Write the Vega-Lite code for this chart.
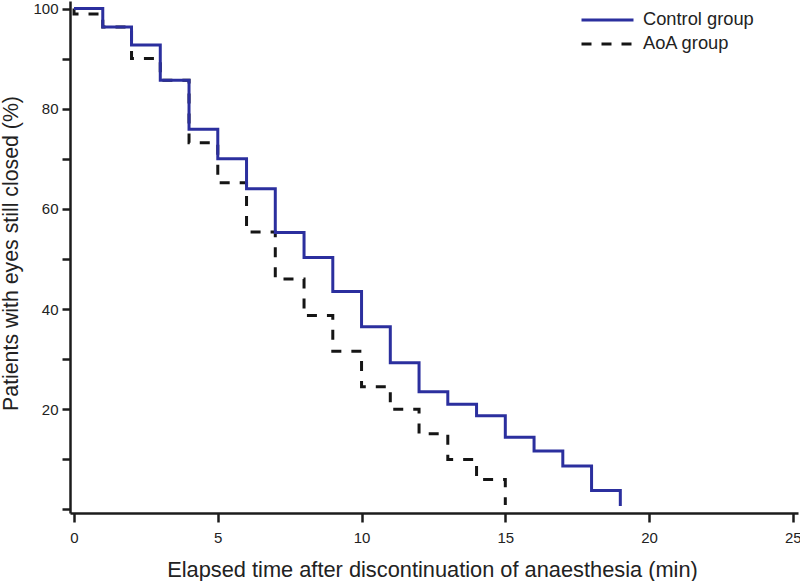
{
  "$schema": "https://vega.github.io/schema/vega-lite/v6.json",
  "width": 728,
  "height": 512,
  "autosize": {"type": "none"},
  "padding": {"left": 70, "top": 1, "right": 2, "bottom": 68},
  "background": "white",
  "config": {
    "view": {"stroke": null},
    "font": "Liberation Sans",
    "axis": {
      "grid": false,
      "domainColor": "#1c1c1c",
      "domainWidth": 2.5,
      "tickColor": "#1c1c1c",
      "tickWidth": 2.5,
      "labelFont": "Liberation Sans",
      "labelFontSize": 15,
      "labelColor": "#222222",
      "titleFont": "Liberation Sans",
      "titleFontWeight": "normal",
      "titleColor": "#222222"
    }
  },
  "data": {
    "values": [
      {"group": "Control group", "t": 0, "p": 100, "i": 0},
      {"group": "Control group", "t": 1, "p": 96.3, "i": 1},
      {"group": "Control group", "t": 2, "p": 92.7, "i": 2},
      {"group": "Control group", "t": 3, "p": 85.7, "i": 3},
      {"group": "Control group", "t": 4, "p": 75.9, "i": 4},
      {"group": "Control group", "t": 5, "p": 70.0, "i": 5},
      {"group": "Control group", "t": 6, "p": 64.0, "i": 6},
      {"group": "Control group", "t": 7, "p": 55.3, "i": 7},
      {"group": "Control group", "t": 8, "p": 50.3, "i": 8},
      {"group": "Control group", "t": 9, "p": 43.5, "i": 9},
      {"group": "Control group", "t": 10, "p": 36.5, "i": 10},
      {"group": "Control group", "t": 11, "p": 29.3, "i": 11},
      {"group": "Control group", "t": 12, "p": 23.5, "i": 12},
      {"group": "Control group", "t": 13, "p": 21.0, "i": 13},
      {"group": "Control group", "t": 14, "p": 18.7, "i": 14},
      {"group": "Control group", "t": 15, "p": 14.4, "i": 15},
      {"group": "Control group", "t": 16, "p": 11.7, "i": 16},
      {"group": "Control group", "t": 17, "p": 8.7, "i": 17},
      {"group": "Control group", "t": 18, "p": 3.8, "i": 18},
      {"group": "Control group", "t": 19, "p": 0.7, "i": 19},
      {"group": "AoA group", "t": 0, "p": 100, "i": 0},
      {"group": "AoA group", "t": 0, "p": 98.9, "i": 1},
      {"group": "AoA group", "t": 1, "p": 96.3, "i": 2},
      {"group": "AoA group", "t": 2, "p": 90.0, "i": 3},
      {"group": "AoA group", "t": 3, "p": 85.7, "i": 4},
      {"group": "AoA group", "t": 4, "p": 73.2, "i": 5},
      {"group": "AoA group", "t": 5, "p": 65.2, "i": 6},
      {"group": "AoA group", "t": 6, "p": 55.4, "i": 7},
      {"group": "AoA group", "t": 7, "p": 46.0, "i": 8},
      {"group": "AoA group", "t": 8, "p": 38.7, "i": 9},
      {"group": "AoA group", "t": 9, "p": 31.6, "i": 10},
      {"group": "AoA group", "t": 10, "p": 24.5, "i": 11},
      {"group": "AoA group", "t": 11, "p": 20.0, "i": 12},
      {"group": "AoA group", "t": 12, "p": 15.1, "i": 13},
      {"group": "AoA group", "t": 13, "p": 10.0, "i": 14},
      {"group": "AoA group", "t": 14, "p": 6.0, "i": 15},
      {"group": "AoA group", "t": 15, "p": 0.9, "i": 16}
    ]
  },
  "encoding": {
    "x": {
      "field": "t",
      "type": "quantitative",
      "scale": {"domain": [-0.14, 25.18], "nice": false, "zero": false},
      "axis": {
        "values": [0, 5, 10, 15, 20, 25],
        "title": "Elapsed time after discontinuation of anaesthesia (min)",
        "tickSize": 9,
        "labelPadding": 8,
        "labelFlush": false,
        "titleFontSize": 21.8,
        "titleBaseline": "alphabetic",
        "titleAlign": "center",
        "titleX": 362,
        "titleY": 63
      }
    },
    "y": {
      "field": "p",
      "type": "quantitative",
      "scale": {"domain": [-0.7, 101.5], "nice": false, "zero": false},
      "axis": {
        "values": [0, 10, 20, 30, 40, 50, 60, 70, 80, 90, 100],
        "labelExpr": "datum.value % 20 === 0 && datum.value > 0 ? datum.label : ''",
        "tickSize": 8,
        "labelPadding": 4,
        "labelFlush": false,
        "title": "Patients with eyes still closed (%)",
        "titleFontSize": 21.3,
        "titleAngle": -90,
        "titleBaseline": "alphabetic",
        "titleAlign": "center",
        "titleX": -53,
        "titleY": 252
      }
    },
    "order": {"field": "i", "type": "quantitative"},
    "color": {
      "field": "group",
      "type": "nominal",
      "scale": {"domain": ["Control group", "AoA group"], "range": ["#2b2f9e", "#151515"]},
      "legend": {
        "title": null,
        "orient": "none",
        "legendX": 510,
        "legendY": 10,
        "symbolType": "stroke",
        "symbolSize": 2704,
        "symbolStrokeWidth": 3,
        "clipHeight": 18,
        "labelFontSize": 18.3,
        "labelOffset": 8,
        "rowPadding": 5,
        "labelColor": "#222222",
        "labelFont": "Liberation Sans"
      }
    },
    "strokeDash": {
      "field": "group",
      "type": "nominal",
      "scale": {"domain": ["Control group", "AoA group"], "range": [[1, 0], [10, 10]]},
      "legend": {
        "title": null,
        "orient": "none",
        "legendX": 510,
        "legendY": 10,
        "symbolType": "stroke",
        "symbolSize": 2704,
        "symbolStrokeWidth": 3,
        "clipHeight": 18,
        "labelFontSize": 18.3,
        "labelOffset": 8,
        "rowPadding": 5,
        "labelColor": "#222222",
        "labelFont": "Liberation Sans"
      }
    }
  },
  "layer": [
    {
      "transform": [{"filter": "datum.group === 'AoA group'"}],
      "mark": {"type": "line", "interpolate": "step-after", "strokeWidth": 3}
    },
    {
      "transform": [{"filter": "datum.group === 'Control group'"}],
      "mark": {"type": "line", "interpolate": "step-after", "strokeWidth": 3}
    }
  ]
}
